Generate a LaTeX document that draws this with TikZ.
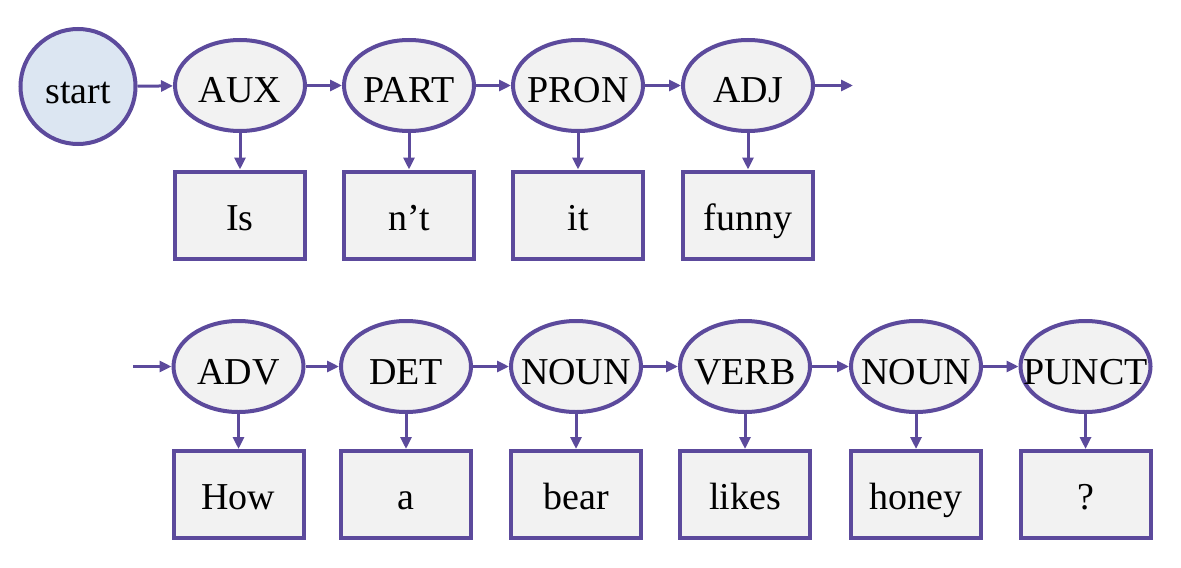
\documentclass[tikz,border=0pt]{standalone}
\usepackage{fontspec}
\setmainfont{Liberation Serif}
\usetikzlibrary{arrows.meta}
\usetikzlibrary{shapes.geometric}
\definecolor{tagline}{HTML}{5C4A9C}
\definecolor{tagfill}{HTML}{F2F2F2}
\definecolor{startfill}{HTML}{DCE6F2}

\begin{document}
\begin{tikzpicture}[x=0.5pt, y=-0.5pt, >={Triangle[length=6pt,width=5.5pt]},
  tag/.style={ellipse, draw=tagline, line width=2pt, fill=tagfill,
    minimum width=65pt, minimum height=45.5pt, inner ysep=0pt, inner xsep=-10pt,
    text height=18pt, text depth=0.5pt, font=\fontsize{19}{23}\selectfont},
  word/.style={rectangle, draw=tagline, line width=2pt, fill=tagfill,
    minimum width=65pt, minimum height=43.5pt, inner ysep=0pt,
    text height=16pt, text depth=1pt, font=\fontsize{19}{23}\selectfont},
  link/.style={->, draw=tagline, line width=1.5pt}]
\useasboundingbox (0,0) rectangle (1181,567);
% first sentence
\node [circle, draw=tagline, line width=2pt, fill=startfill, minimum size=57.5pt,
  inner sep=0pt, text height=18pt, text depth=0.5pt,
  font=\fontsize{19}{23}\selectfont] (start) at (78,86.5) {start};
\node [tag] (aux)  at (240,85.5) {AUX};
\node [tag] (part) at (409,85.5) {PART};
\node [tag] (pron) at (578,85.5) {PRON};
\node [tag] (adj)  at (748,85.5) {ADJ};
\coordinate (out) at (853,85.5);
\node [word] (is)    at (240,215) {Is};
\node [word] (nt)    at (409,215) {n’t};
\node [word] (it)    at (578,215) {it};
\node [word] (funny) at (748,215) {funny};
\draw [link] (start) -- (aux);
\draw [link] (aux) -- (part);
\draw [link] (part) -- (pron);
\draw [link] (pron) -- (adj);
\draw [link] (adj) -- (out);
\draw [link] (aux) -- (is);
\draw [link] (part) -- (nt);
\draw [link] (pron) -- (it);
\draw [link] (adj) -- (funny);
% second sentence
\coordinate (in) at (133,366.5);
\node [tag] (adv)   at (238.5,366.5) {ADV};
\node [tag] (det)   at (406,366.5) {DET};
\node [tag] (noun1) at (576,366.5) {NOUN};
\node [tag] (verb)  at (745,366.5) {VERB};
\node [tag] (noun2) at (916,366.5) {NOUN};
\node [tag] (punct) at (1085.5,366.5) {PUNCT};
\node [word] (how)   at (238.5,494.5) {How};
\node [word] (a)     at (406,494.5) {a};
\node [word] (bear)  at (576,494.5) {bear};
\node [word] (likes) at (745,494.5) {likes};
\node [word] (honey) at (916,494.5) {honey};
\node [word] (qm)    at (1085.5,494.5) {?};
\draw [link] (in) -- (adv);
\draw [link] (adv) -- (det);
\draw [link] (det) -- (noun1);
\draw [link] (noun1) -- (verb);
\draw [link] (verb) -- (noun2);
\draw [link] (noun2) -- (punct);
\draw [link] (adv) -- (how);
\draw [link] (det) -- (a);
\draw [link] (noun1) -- (bear);
\draw [link] (verb) -- (likes);
\draw [link] (noun2) -- (honey);
\draw [link] (punct) -- (qm);
\end{tikzpicture}
\end{document}
